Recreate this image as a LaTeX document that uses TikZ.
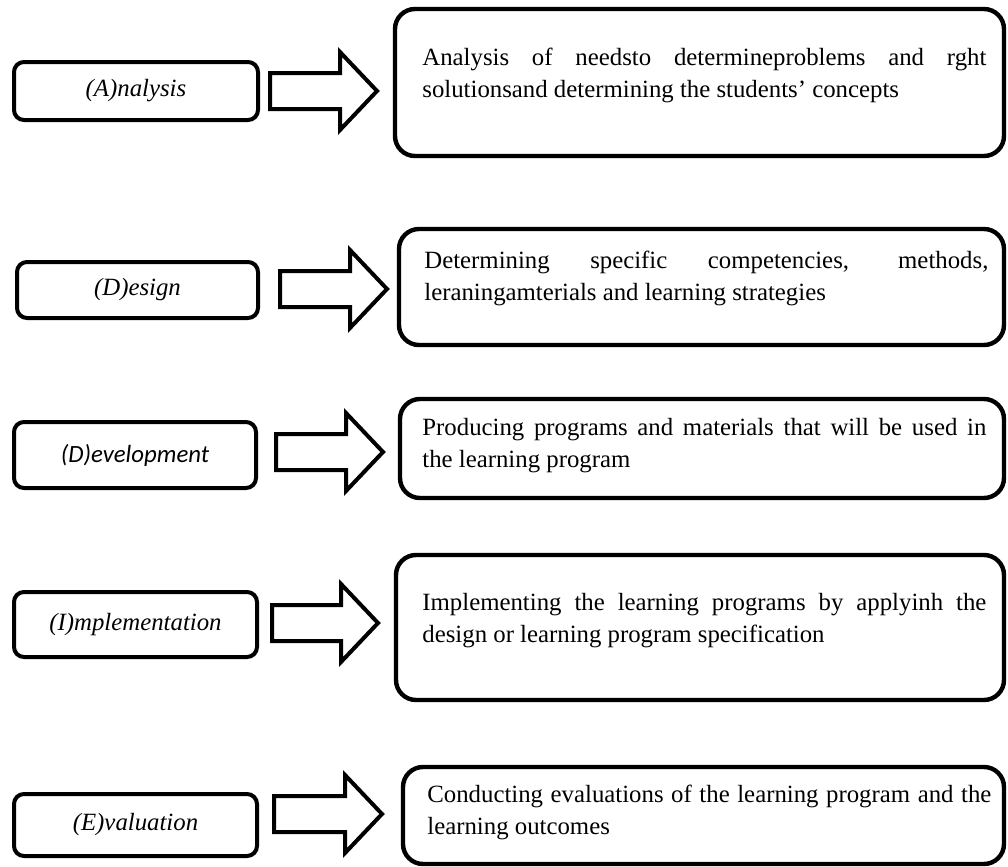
\documentclass[tikz,border=0pt]{standalone}
\usepackage{fontspec}
\setmainfont{Liberation Serif}
\newfontfamily\devfont{Carlito}
\usetikzlibrary{calc}

\tikzset{
  phase/.style={draw, line width=2pt, rounded corners=5pt, inner sep=0pt,
    font=\itshape\fontsize{12.4}{15}\selectfont},
  descbox/.style={draw, line width=2.2pt, rounded corners=10pt, inner sep=0pt},
  desc/.style={anchor=north west, inner sep=0pt, text width=282pt, align=justify,
    font=\fontsize{12.4}{16}\selectfont},
  blockarr/.style={draw, line width=2pt, line join=miter, fill=white},
}

% block arrow: tail x, tip x, middle y (pixel units)
\newcommand\blockarrow[3]{%
  \draw[blockarr] (#1,#3-18) -- (#2-37,#3-18) -- (#2-37,#3-39) -- (#2,#3)
    -- (#2-37,#3+39) -- (#2-37,#3+18) -- (#1,#3+18) -- cycle;}

\begin{document}
\begin{tikzpicture}[x=0.5pt, y=-0.5pt]
  \useasboundingbox (0,0) rectangle (1008,867);

  % left column
  \node[phase, minimum width=122pt, minimum height=29pt] (an) at (136,91) {(A)nalysis};
  \node[phase, minimum width=120.5pt, minimum height=28pt] (de) at (137.5,290) {(D)esign};
  \node[phase, minimum width=121pt, minimum height=33pt] (dv) at (135,455) {\devfont\itshape(D)evelopment};
  \node[phase, minimum width=121.5pt, minimum height=32.5pt] (im) at (135.5,624.5) {(I)mplementation};
  \node[phase, minimum width=121.5pt, minimum height=31pt] (ev) at (135.5,825) {(E)valuation};

  % arrows
  \blockarrow{270}{377}{91}
  \blockarrow{280}{387}{289}
  \blockarrow{276}{383}{452}
  \blockarrow{272}{378}{623}
  \blockarrow{274}{382}{814}

  % right column
  \node[descbox, minimum width=304.5pt, minimum height=73.5pt] (anr) at (699.5,82.5) {};
  \node[descbox, minimum width=302.5pt, minimum height=58pt] (der) at (701.5,287) {};
  \node[descbox, minimum width=302pt, minimum height=49.5pt] (dvr) at (702,448.5) {};
  \node[descbox, minimum width=304pt, minimum height=72.5pt] (imr) at (700,627.5) {};
  \node[descbox, minimum width=300.5pt, minimum height=48.5pt] (evr) at (703.5,815.5) {};

  \node[desc] (ant) at (422,42.6) {\strut Analysis of needsto determineproblems and rght\linebreak
    solutionsand determining the students’ concepts};
  \node[desc] (det) at (424,245.6) {\strut Determining specific competencies, methods,\linebreak
    leraningamterials and learning strategies};
  \node[desc] (dvt) at (422,412.6) {\strut Producing programs and materials that will be used in\linebreak
    the learning program};
  \node[desc] (imt) at (422,587.6) {\strut Implementing the learning programs by applyinh the\linebreak
    design or learning program specification};
  \node[desc] (evt) at (427,779.6) {\strut Conducting evaluations of the learning program and the\linebreak
    learning outcomes};
\end{tikzpicture}
\end{document}
